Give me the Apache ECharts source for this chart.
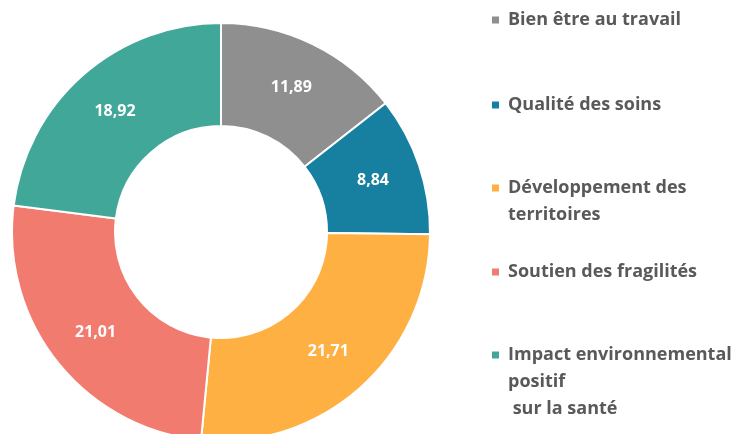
<!DOCTYPE html>
<html><head><meta charset="utf-8">
<script src="https://cdn.jsdelivr.net/npm/echarts@6/dist/echarts.min.js"></script>
<style>html,body{margin:0;padding:0;background:#fff}#c{width:741px;height:434px}</style>
</head><body><div id="c"></div>
<script>
const categories = ["Bien être au travail", "Qualité des soins", "Développement des\nterritoires", "Soutien des fragilités", "Impact environnemental\npositif\n sur la santé"];
const values = [11.89, 8.84, 21.71, 21.01, 18.92];
const colors = ["#8f8f8f", "#1780a1", "#ffb043", "#f27b70", "#41a899"];

const chart = echarts.init(document.getElementById('c'), null, {renderer: 'canvas'});
const LH = 27;
const iconY = [20, 105, 188, 272, 355];
const legends = categories.map((name, i) => {
  const n = name.split('\n').length;
  return {
    data: [name],
    orient: 'vertical',
    left: 490,
    top: iconY[i] - (2 * n - 1) * LH / 2,
    icon: 'rect',
    itemWidth: 9,
    itemHeight: 9,
    padding: 0,
    selectedMode: false,
    formatter: nm => '\n'.repeat(n - 1) + nm,
    textStyle: {
      color: '#595959',
      fontSize: 18,
      fontWeight: 'bold',
      fontFamily: 'Open Sans',
      lineHeight: LH,
      padding: [0, 0, 0, 3]
    }
  };
});

chart.setOption({
  animation: false,
  color: colors,
  legend: legends,
  series: [{
    type: 'pie',
    center: [221, 232],
    radius: [106, 209],
    startAngle: 90,
    clockwise: true,
    itemStyle: {borderColor: '#ffffff', borderWidth: 2},
    label: {
      show: true,
      position: 'inside',
      color: '#ffffff',
      fontSize: 16,
      fontWeight: 'bold',
      fontFamily: 'Open Sans',
      formatter: p => p.value.toFixed(2).replace('.', ',')
    },
    labelLine: {show: false},
    data: categories.map((c, i) => ({name: c, value: values[i]}))
  }]
});
</script></body></html>
